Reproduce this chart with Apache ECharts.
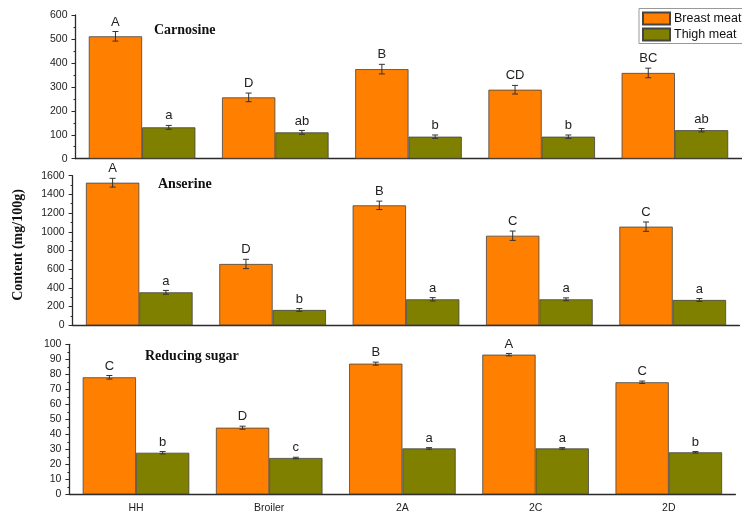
<!DOCTYPE html>
<html>
<head>
<meta charset="utf-8">
<script src="https://cdn.jsdelivr.net/npm/echarts@6/dist/echarts.min.js"></script>
<style>
  html, body { margin: 0; padding: 0; background: #fff; }
  #chart { width: 742px; height: 515px; }
</style>
</head>
<body>
<div id="chart"></div>
<script>
// Breed groups along the x axis
const categories = ['HH', 'Broiler', '2A', '2C', '2D'];

// Carnosine (mg/100g)
const carnosineBreast = [511, 256, 374, 288, 358];
const carnosineBreastErr = [20, 18, 20, 18, 20];
const carnosineBreastSig = ['A', 'D', 'B', 'CD', 'BC'];
const carnosineThigh = [131, 110, 92, 92, 119];
const carnosineThighErr = [8, 8, 7, 7, 7];
const carnosineThighSig = ['a', 'ab', 'b', 'b', 'ab'];

// Anserine (mg/100g)
const anserineBreast = [1525, 656, 1283, 958, 1055];
const anserineBreastErr = [47, 50, 45, 50, 50];
const anserineBreastSig = ['A', 'D', 'B', 'C', 'C'];
const anserineThigh = [353, 164, 278, 278, 271];
const anserineThighErr = [20, 15, 18, 15, 15];
const anserineThighSig = ['a', 'b', 'a', 'a', 'a'];

// Reducing sugar
const sugarBreast = [78, 44.4, 87.1, 93.1, 74.7];
const sugarBreastErr = [1.2, 1.0, 1.0, 0.8, 0.8];
const sugarBreastSig = ['C', 'D', 'B', 'A', 'C'];
const sugarThigh = [27.7, 24.2, 30.6, 30.6, 28];
const sugarThighErr = [0.8, 0.5, 0.5, 0.5, 0.5];
const sugarThighSig = ['b', 'c', 'a', 'a', 'b'];

// y-axis ranges per panel
const yMax = [600, 1600, 100];
const yStep = [100, 200, 10];
const panelTitles = ['Carnosine', 'Anserine', 'Reducing sugar'];

const BREAST = '#FF7F00';
const THIGH = '#7F7F00';
const SANS = 'Liberation Sans, Arial, sans-serif';
const SERIF = 'Liberation Serif, Times New Roman, serif';

const panels = [
  { breast: carnosineBreast, bErr: carnosineBreastErr, bSig: carnosineBreastSig,
    thigh: carnosineThigh, tErr: carnosineThighErr, tSig: carnosineThighSig },
  { breast: anserineBreast, bErr: anserineBreastErr, bSig: anserineBreastSig,
    thigh: anserineThigh, tErr: anserineThighErr, tSig: anserineThighSig },
  { breast: sugarBreast, bErr: sugarBreastErr, bSig: sugarBreastSig,
    thigh: sugarThigh, tErr: sugarThighErr, tSig: sugarThighSig }
];

const grids = [
  { left: 75.5, top: 15, width: 666, height: 143.7 },
  { left: 72.6, top: 175.7, width: 666.8, height: 149.6 },
  { left: 69.4, top: 344.3, width: 666, height: 150 }
];

const axisColor = '#2b2b2b';

const xAxes = [];
const yAxes = [];
grids.forEach((g, i) => {
  // main category axis: ticks at group centres, labels only on the bottom panel
  xAxes.push({
    type: 'category', gridIndex: i, data: categories,
    axisLine: { lineStyle: { color: axisColor, width: 1.3 } },
    axisTick: { alignWithLabel: true, length: 4, lineStyle: { color: axisColor } },
    axisLabel: { show: i === 2, color: '#222', fontFamily: SANS, fontSize: 10.5, margin: 8 },
    splitLine: { show: false }
  });
  yAxes.push({
    type: 'value', gridIndex: i, min: 0, max: yMax[i], interval: yStep[i],
    axisLine: { show: true, lineStyle: { color: axisColor, width: 1.3 } },
    axisTick: { show: true, length: 4, lineStyle: { color: axisColor } },
    minorTick: { show: true, splitNumber: 2, length: 2, lineStyle: { color: axisColor } },
    axisLabel: { color: '#222', fontFamily: SANS, fontSize: 10.5, margin: 8,
                 formatter: v => String(v) },
    splitLine: { show: false }
  });
});
// short ticks at the group boundaries
grids.forEach((g, i) => {
  xAxes.push({
    type: 'category', gridIndex: i, data: categories, position: 'bottom',
    axisLine: { show: false },
    axisTick: { alignWithLabel: false, length: 2, lineStyle: { color: axisColor } },
    axisLabel: { show: false },
    splitLine: { show: false }
  });
});

function errorSeries(panelIdx, values, errs, sigs, side) {
  return {
    type: 'custom',
    xAxisIndex: panelIdx, yAxisIndex: panelIdx,
    z: 5,
    silent: true,
    data: values.map((v, k) => [k, v, errs[k]]),
    renderItem: function (params, api) {
      const k = api.value(0), v = api.value(1), e = api.value(2);
      const top = api.coord([k, v + e]);
      const bot = api.coord([k, v - e]);
      const band = api.size([1, 0])[0];
      const cx = top[0] + side * band * 0.2;
      const cap = 3;
      const stroke = { stroke: '#333', lineWidth: 1 };
      return {
        type: 'group',
        children: [
          { type: 'line', shape: { x1: cx, y1: top[1], x2: cx, y2: bot[1] }, style: stroke },
          { type: 'line', shape: { x1: cx - cap, y1: top[1], x2: cx + cap, y2: top[1] }, style: stroke },
          { type: 'line', shape: { x1: cx - cap, y1: bot[1], x2: cx + cap, y2: bot[1] }, style: stroke },
          { type: 'text', x: cx, y: top[1] - 3,
            style: { text: sigs[params.dataIndex], textAlign: 'center', textVerticalAlign: 'bottom',
                     font: '13px ' + SANS, fill: '#222' } }
        ]
      };
    }
  };
}

const series = [];
panels.forEach((p, i) => {
  series.push({
    name: 'Breast meat', type: 'bar', xAxisIndex: i, yAxisIndex: i,
    data: p.breast, barGap: '0%', barCategoryGap: '20%',
    itemStyle: { color: BREAST, borderColor: '#444', borderWidth: 0.8 }
  });
  series.push({
    name: 'Thigh meat', type: 'bar', xAxisIndex: i, yAxisIndex: i,
    data: p.thigh, barGap: '0%', barCategoryGap: '20%',
    itemStyle: { color: THIGH, borderColor: '#444', borderWidth: 0.8 }
  });
  series.push(errorSeries(i, p.breast, p.bErr, p.bSig, -1));
  series.push(errorSeries(i, p.thigh, p.tErr, p.tSig, 1));
});

const graphic = [
  { type: 'text', x: 154, y: 30, style: { text: panelTitles[0], font: 'bold 14px ' + SERIF, fill: '#111', textVerticalAlign: 'middle' } },
  { type: 'text', x: 158, y: 184, style: { text: panelTitles[1], font: 'bold 14px ' + SERIF, fill: '#111', textVerticalAlign: 'middle' } },
  { type: 'text', x: 145, y: 356, style: { text: panelTitles[2], font: 'bold 14px ' + SERIF, fill: '#111', textVerticalAlign: 'middle' } },
  { type: 'text', x: 18.5, y: 245, rotation: Math.PI / 2,
    style: { text: 'Content (mg/100g)', font: 'bold 14px ' + SERIF, fill: '#111', textAlign: 'center', textVerticalAlign: 'middle' } }
];

const chart = echarts.init(document.getElementById('chart'), null, { renderer: 'canvas' });
chart.setOption({
  animation: false,
  backgroundColor: '#fff',
  grid: grids,
  xAxis: xAxes,
  yAxis: yAxes,
  series: series,
  graphic: graphic,
  legend: {
    data: ['Breast meat', 'Thigh meat'],
    orient: 'vertical',
    left: 639, top: 8.5,
    padding: [3, 4, 2, 3],
    itemWidth: 27, itemHeight: 12, itemGap: 2,
    borderColor: '#999', borderWidth: 1,
    backgroundColor: '#fff',
    textStyle: { fontFamily: SANS, fontSize: 12.5, color: '#111', padding: [0, 0, 0, -1] },
    icon: 'rect'
  }
});
</script>
</body>
</html>
